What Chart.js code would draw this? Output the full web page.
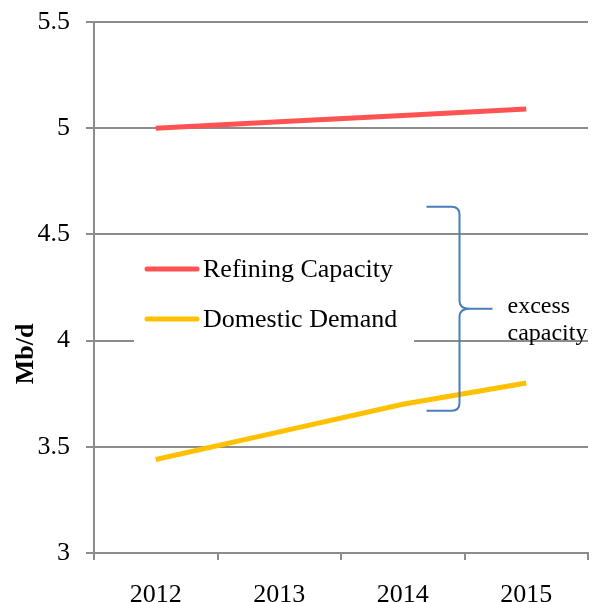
<!DOCTYPE html>
<html>
<head>
<meta charset="utf-8">
<script src="https://cdn.jsdelivr.net/npm/chart.js@4.4.0/dist/chart.umd.min.js"></script>
<style>
  html, body { margin: 0; padding: 0; background: #fff; }
  #wrap { width: 592px; height: 602px; }
</style>
</head>
<body>
<div id="wrap"><canvas id="c"></canvas></div>
<script>
// data
const years = ['2012', '2013', '2014', '2015'];
const refiningCapacity = [5.0, 5.03, 5.06, 5.09];
const domesticDemand = [3.44, 3.57, 3.70, 3.80];
const seriesNames = ['Refining Capacity', 'Domestic Demand'];
const seriesColors = ['#ff5353', '#ffc000'];
const yRange = [3, 5.5];
const yStep = 0.5;
const yTitle = 'Mb/d';
const braceRange = [3.67, 4.63];
const braceLabel = ['excess', 'capacity'];

const serif = '"Liberation Serif", "Times New Roman", serif';
const gridColor = '#8c8c8c';

// legend box, brace and axis title drawn by hand
const extras = {
  id: 'extras',
  beforeDatasetsDraw(chart) {
    const ctx = chart.ctx;
    const y = chart.scales.y;
    ctx.save();
    ctx.fillStyle = '#fff';
    const boxTop = y.getPixelForValue(4.5) + 4;
    ctx.fillRect(134, boxTop, 280, y.getPixelForValue(4) - boxTop + 8);
    const rows = [269, 319];
    chart.data.datasets.forEach((ds, i) => {
      ctx.strokeStyle = ds.borderColor;
      ctx.lineWidth = 5;
      ctx.lineCap = 'round';
      ctx.beginPath();
      ctx.moveTo(147, rows[i]);
      ctx.lineTo(197, rows[i]);
      ctx.stroke();
      ctx.fillStyle = '#000';
      ctx.font = '26px ' + serif;
      ctx.textBaseline = 'middle';
      ctx.textAlign = 'left';
      ctx.fillText(ds.label, 203, rows[i] + 1);
    });
    ctx.restore();
  },
  afterDraw(chart) {
    const ctx = chart.ctx;
    const x = chart.scales.x, y = chart.scales.y;
    ctx.save();
    // brace
    const bx = x.getPixelForValue(2.5) - 5;
    const top = y.getPixelForValue(braceRange[1]);
    const bot = y.getPixelForValue(braceRange[0]);
    const mid = (top + bot) / 2;
    const armL = bx - 33, tip = bx + 33, r = 8;
    ctx.strokeStyle = '#4a7ebb';
    ctx.lineWidth = 2;
    ctx.beginPath();
    ctx.moveTo(armL, top);
    ctx.lineTo(bx - r, top);
    ctx.quadraticCurveTo(bx, top, bx, top + r);
    ctx.lineTo(bx, mid - r);
    ctx.quadraticCurveTo(bx, mid, bx + 10, mid);
    ctx.lineTo(tip, mid);
    ctx.moveTo(bx + 10, mid);
    ctx.quadraticCurveTo(bx, mid, bx, mid + r);
    ctx.lineTo(bx, bot - r);
    ctx.quadraticCurveTo(bx, bot, bx - r, bot);
    ctx.lineTo(armL, bot);
    ctx.stroke();
    ctx.fillStyle = '#000';
    ctx.font = '24px ' + serif;
    ctx.textAlign = 'left';
    ctx.textBaseline = 'middle';
    ctx.fillText(braceLabel[0], tip + 15, mid - 2);
    ctx.fillText(braceLabel[1], tip + 15, mid + 25);
    // y title
    ctx.translate(26, 354);
    ctx.rotate(-Math.PI / 2);
    ctx.font = 'bold 26px ' + serif;
    ctx.textAlign = 'center';
    ctx.fillText(yTitle, 0, 0);
    ctx.restore();
  }
};

new Chart(document.getElementById('c'), {
  type: 'line',
  data: {
    labels: years,
    datasets: [
      { label: seriesNames[0], data: refiningCapacity, borderColor: seriesColors[0] },
      { label: seriesNames[1], data: domesticDemand, borderColor: seriesColors[1] }
    ]
  },
  options: {
    responsive: true,
    maintainAspectRatio: false,
    animation: false,
    layout: { padding: { top: 22, right: 4, left: 0, bottom: 0 } },
    elements: {
      line: { borderWidth: 5, tension: 0, fill: false },
      point: { radius: 0, hoverRadius: 0 }
    },
    plugins: { legend: { display: false }, tooltip: { enabled: false } },
    scales: {
      x: {
        offset: true,
        grid: { offset: true, drawOnChartArea: false, color: gridColor, lineWidth: 2, tickLength: 7 },
        border: { color: gridColor, width: 2 },
        ticks: { color: '#000', font: { family: serif, size: 26 }, padding: 20 },
        afterFit(s) { s.height = 49; s.paddingLeft = 0; s.paddingRight = 0; }
      },
      y: {
        min: yRange[0],
        max: yRange[1],
        grid: { color: gridColor, lineWidth: 2, tickLength: 8 },
        border: { color: gridColor, width: 2 },
        ticks: {
          stepSize: yStep, color: '#000', font: { family: serif, size: 26 }, padding: 16,
          callback: v => String(v)
        },
        afterFit(s) { s.width = 94; s.paddingTop = 0; s.paddingBottom = 0; }
      }
    }
  },
  plugins: [extras]
});
</script>
</body>
</html>
